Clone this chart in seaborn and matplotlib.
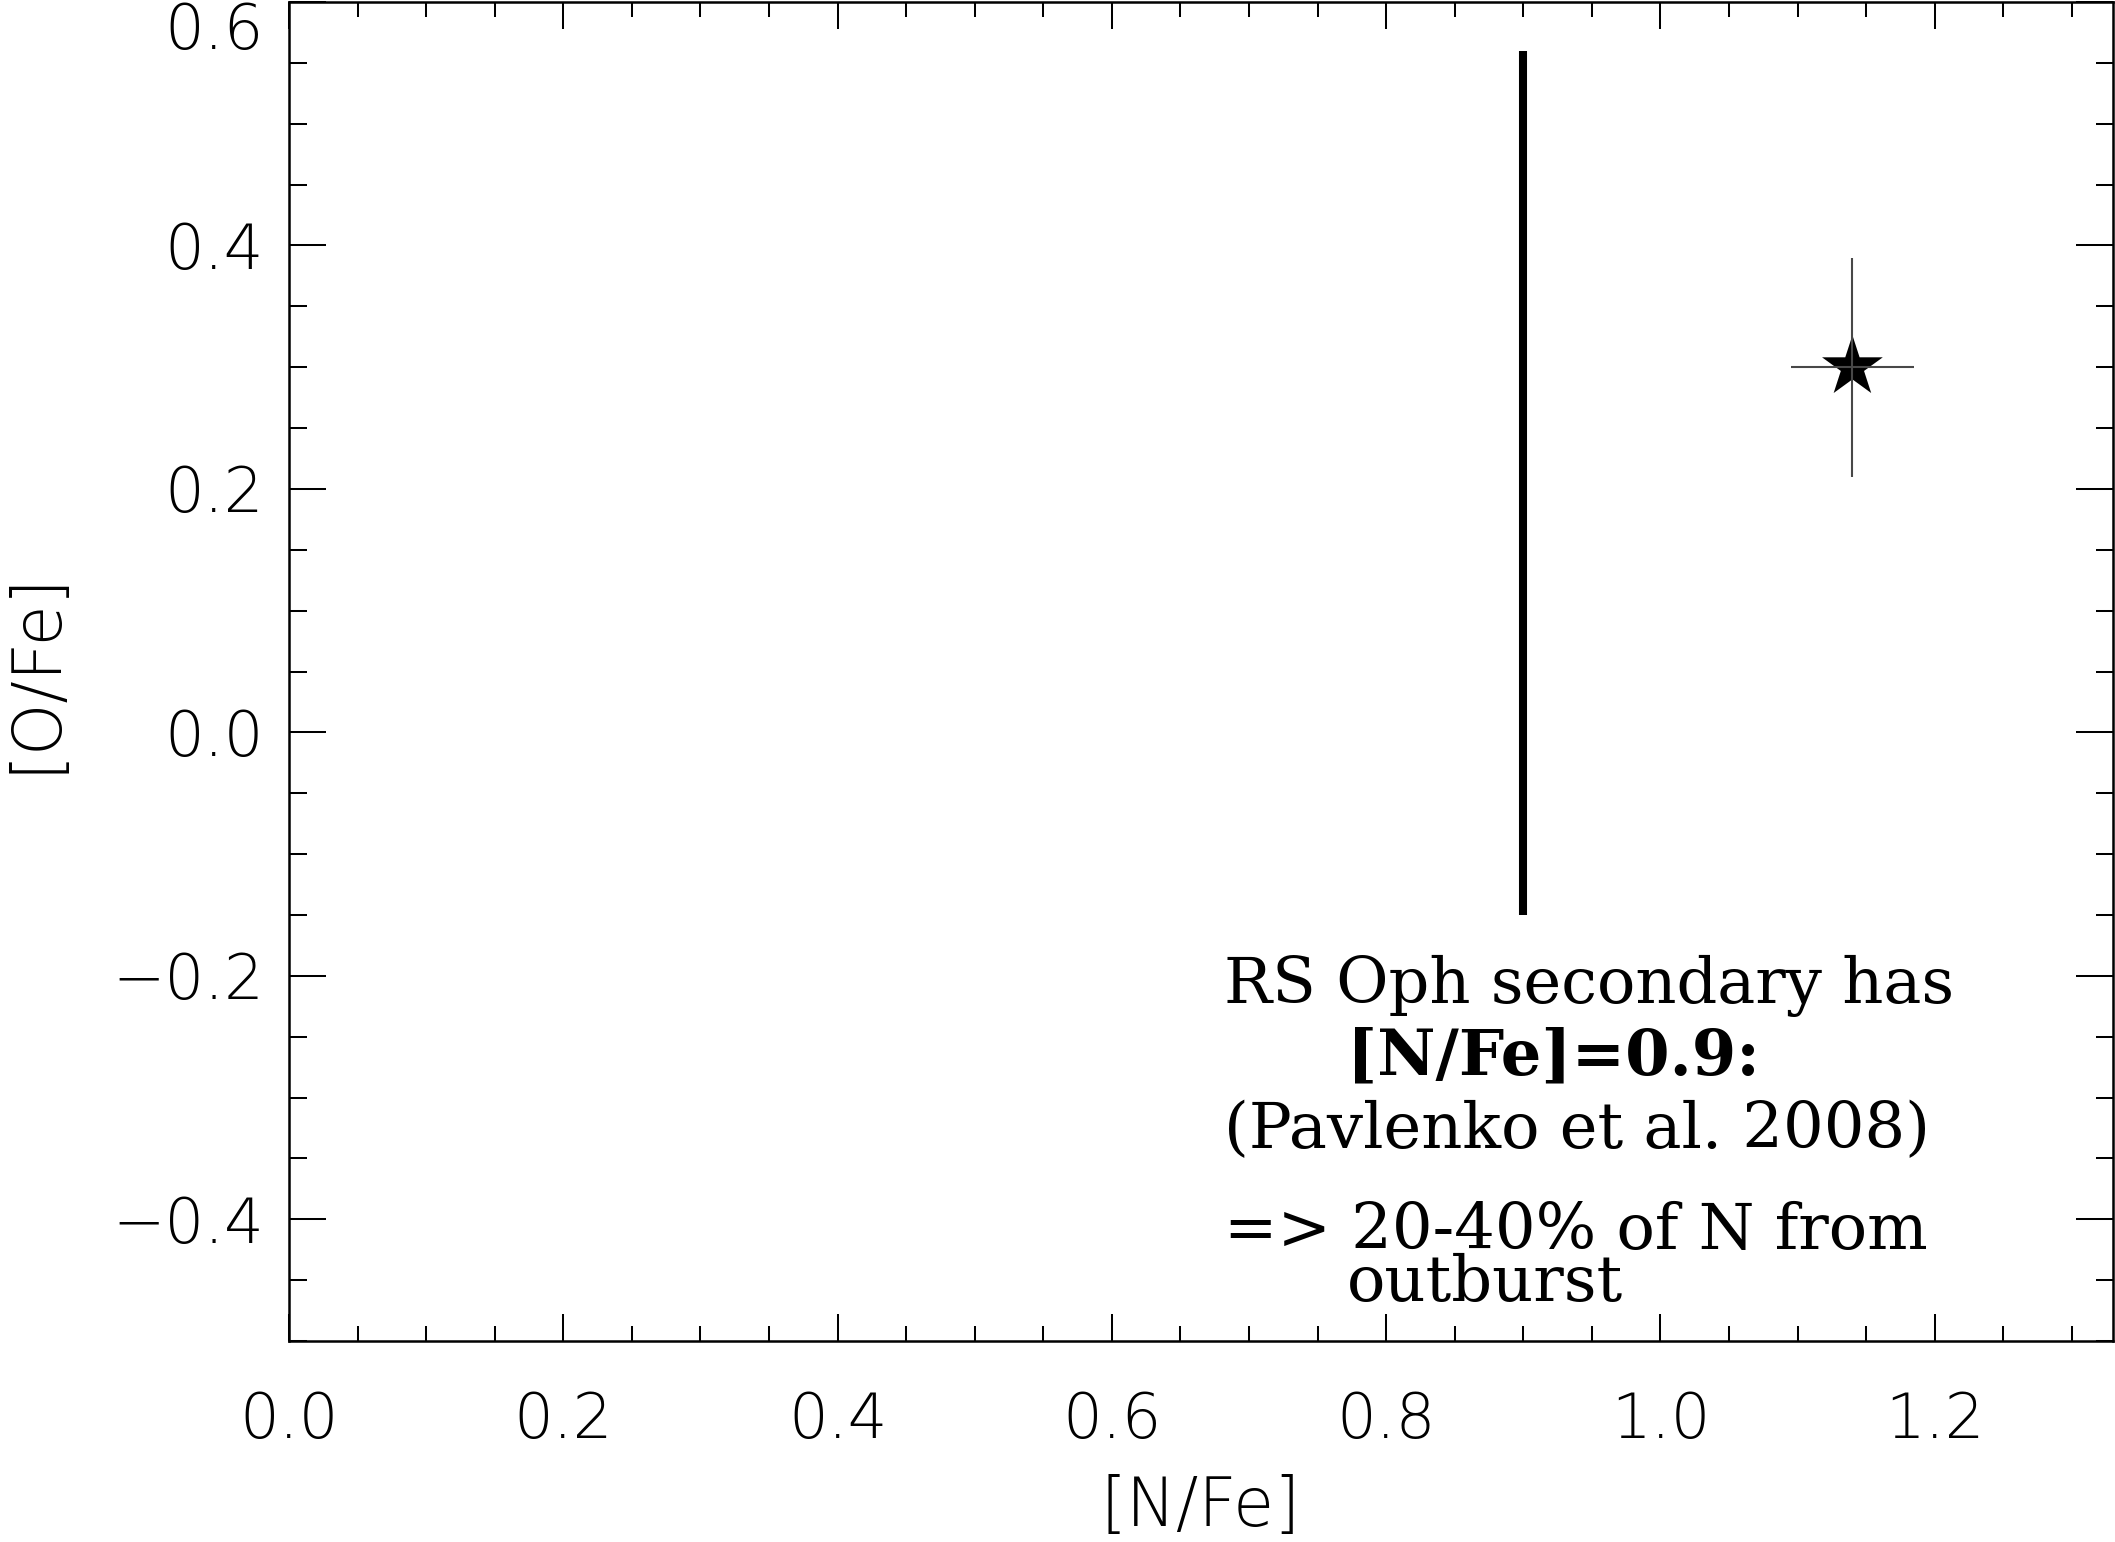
import numpy as np
import pandas as pd
import matplotlib
matplotlib.use("Agg")
import matplotlib.pyplot as plt
from matplotlib.ticker import MultipleLocator, FixedLocator
import seaborn as sns

# RS Oph secondary: measured abundances with uncertainties
star_nfe = [1.14]
star_ofe = [0.30]
star_nfe_err = [0.045]
star_ofe_err = [0.09]

# Reference [N/Fe] value from Pavlenko et al. (2008), drawn as a vertical bar
ref_nfe = [0.9, 0.9]
ref_ofe = [-0.15, 0.56]

x_ticks = [0.0, 0.2, 0.4, 0.6, 0.8, 1.0, 1.2]
y_ticks = [-0.4, -0.2, 0.0, 0.2, 0.4, 0.6]

note_lines = [
    ("RS Oph secondary has", "normal"),
    ("[N/Fe]=0.9:", "bold"),
    ("(Pavlenko et al. 2008)", "normal"),
    ("=> 20-40% of N from", "normal"),
    ("outburst", "normal"),
]

sns.set_theme(style="ticks")
tick_font = ["DejaVu Sans"]
plt.rcParams["font.family"] = tick_font
plt.rcParams["axes.unicode_minus"] = True
plt.rcParams["text.color"] = "black"
plt.rcParams["axes.labelcolor"] = "black"
plt.rcParams["xtick.color"] = "black"
plt.rcParams["ytick.color"] = "black"

W, H, DPI = 2115, 1542, 100
fig = plt.figure(figsize=(W / DPI, H / DPI), dpi=DPI, facecolor="white")
ax = fig.add_axes([289 / W, 1 - 1341 / H, (2113 - 289) / W, (1341 - 2) / H])
ax.set_facecolor("white")

df_star = pd.DataFrame({"nfe": star_nfe, "ofe": star_ofe})
sns.scatterplot(data=df_star, x="nfe", y="ofe", marker="*", s=46 ** 2,
                color="black", edgecolor="none", linewidth=0, ax=ax, zorder=3,
                legend=False)
ax.errorbar(star_nfe, star_ofe, xerr=star_nfe_err, yerr=star_ofe_err,
            fmt="none", ecolor="#484848", elinewidth=1.5, capsize=0, zorder=4)

ax.plot(ref_nfe, ref_ofe, color="black", lw=5.8, solid_capstyle="butt", zorder=2)

ax.set_xlim(0, 1.33)
ax.set_ylim(-0.5, 0.6)
ax.xaxis.set_major_locator(FixedLocator(x_ticks))
ax.yaxis.set_major_locator(FixedLocator(y_ticks))
ax.xaxis.set_minor_locator(MultipleLocator(0.05))
ax.yaxis.set_minor_locator(MultipleLocator(0.05))
ax.set_xticklabels([f"{v:.1f}" for v in x_ticks])
ax.set_yticklabels([f"{v:.1f}".replace("-", "\u2212") for v in y_ticks])

for s in ax.spines.values():
    s.set_linewidth(1.8)
    s.set_color("black")

ax.tick_params(axis="both", which="both", direction="in", top=True, right=True,
               width=1.45, color="black", labelcolor="black")
ax.tick_params(axis="x", which="major", length=19.5, pad=36, labelsize=45)
ax.tick_params(axis="x", which="minor", length=10.8)
ax.tick_params(axis="y", which="major", length=26.6, pad=18, labelsize=45)
ax.tick_params(axis="y", which="minor", length=12.6)
for lab in ax.get_xticklabels() + ax.get_yticklabels():
    lab.set_fontweight(200)
    lab.set_family(tick_font)

# keep the top tick label inside the figure
ax.yaxis.get_major_ticks()[-1].label1.set_verticalalignment("top")

ax.set_xlabel("[N/Fe]", fontsize=48, fontweight=200, family=tick_font, color="black")
ax.set_ylabel("[O/Fe]", fontsize=48, fontweight=200, family=tick_font, color="black")
ax.xaxis.set_label_coords(0.5, (1341 - 1526) / 1339)
ax.xaxis.label.set_verticalalignment("baseline")
ax.yaxis.set_label_coords((35 - 289) / 1824, 0.5)
ax.yaxis.label.set_verticalalignment("center")

# annotation block, left-aligned at two indents
px_x = lambda px: (px - 291) / 1370
px_y = lambda py: (731 - py) / 1217.5
note_pos = [(1225, 1002), (1348, 1073), (1225, 1147), (1225, 1248), (1348, 1300)]
for (txt, wt), (xp, yp) in zip(note_lines, note_pos):
    ax.text(px_x(xp), px_y(yp), txt, fontsize=46, fontweight=wt,
            family=["DejaVu Serif"], ha="left", va="baseline", color="black",
            zorder=5)

fig.savefig("out.png", dpi=DPI, facecolor="white")
